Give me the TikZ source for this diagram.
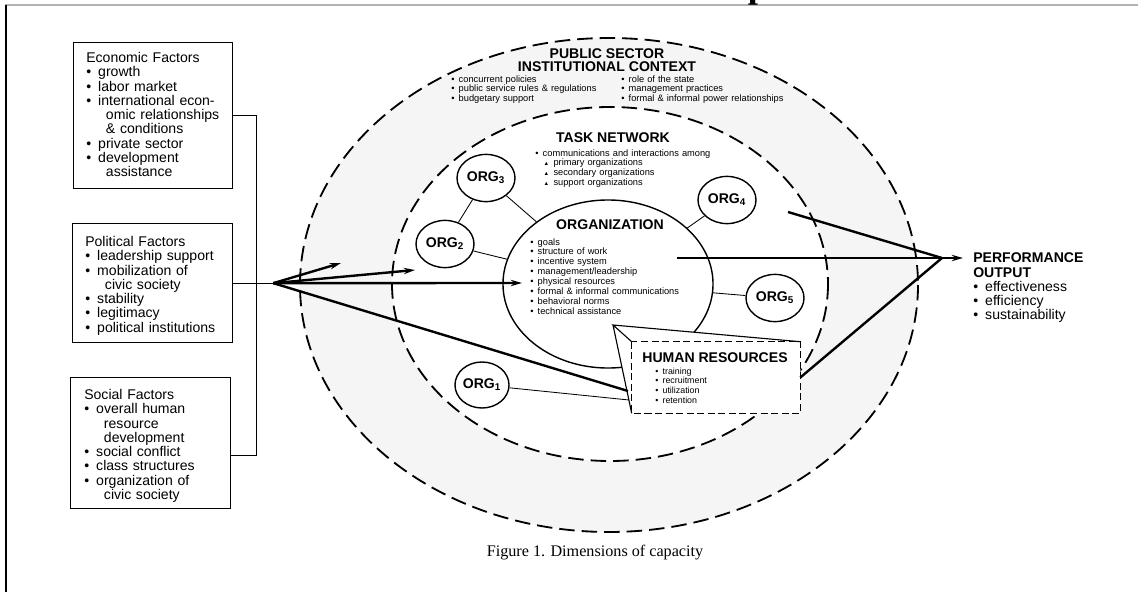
\documentclass[tikz,border=0pt]{standalone}
\usepackage{fontspec}
\setmainfont{Liberation Sans}
\newfontfamily\capfont{Liberation Serif}
\usetikzlibrary{shapes.geometric,arrows.meta,calc}

\newcommand{\bul}{\textbullet\hspace{5pt}}
\newcommand{\cont}{\hspace*{14pt}}
\newcommand{\sbul}{\textbullet\hspace{3pt}}
\newcommand{\tri}{\hspace*{6pt}{\fontsize{4}{4}\selectfont ▲}\hspace{3pt}}

\begin{document}
\begin{tikzpicture}[x=0.025cm,y=-0.025cm,
    factorbox/.style={draw,line width=0.9pt,anchor=north west,inner sep=0},
    factortext/.style={anchor=base west,inner sep=0,text width=4cm,align=left,
      font=\fontsize{10}{10.15}\selectfont},
    smalllist/.style={anchor=base west,inner sep=0,text width=5.5cm,align=left,
      font=\fontsize{6.6}{7.1}\selectfont},
    heading/.style={font=\bfseries\fontsize{10}{9.4}\selectfont,align=center,inner sep=0},
    ring/.style={line width=1.3pt,dash pattern=on 11pt off 5pt},
    orgcirc/.style={ellipse,draw,line width=1pt,fill=white,inner sep=0,
      minimum width=1.45cm,minimum height=1.18cm,font=\bfseries\fontsize{10}{10}\selectfont},
    link/.style={line width=0.6pt},
    flow/.style={line width=1.7pt},
    >={Stealth[length=8pt,width=4.5pt]}
  ]
  \useasboundingbox (0,0) rectangle (1138,592);

  % page frame and clipped title
  \draw[gray!60,line width=0.8pt] (5,5) -- (1138,5);
  \draw[line width=1.5pt] (6,5) -- (6,592);
  \node[anchor=base,inner sep=0,font=\capfont\bfseries\fontsize{26}{26}\selectfont] (ptitle) at (758,-2) {p};

  % public sector ring and task network
  \fill[gray!8,even odd rule] (609,285) ellipse [x radius=309,y radius=247]
    (610,284) ellipse [x radius=218,y radius=177];
  \draw[ring] (609,285) ellipse [x radius=309,y radius=247];
  \draw[ring] (610,284) ellipse [x radius=218,y radius=177];

  \node[heading] (pubtitle) at (607,60.5) {PUBLIC SECTOR\\INSTITUTIONAL CONTEXT};
  \node[smalllist] (publeft) at (451,82) {\sbul concurrent policies\\
    \sbul public service rules \& regulations\\ \sbul budgetary support};
  \node[smalllist] (pubright) at (621,82) {\sbul role of the state\\
    \sbul management practices\\ \sbul formal \& informal power relationships};

  \node[heading] (tasktitle) at (613,138) {TASK NETWORK};
  \node[smalllist] (tasklist) at (535,156) {\sbul communications and interactions among\\
    \tri primary organizations\\ \tri secondary organizations\\ \tri support organizations};

  % organization
  \node[ellipse,draw,line width=1pt,inner sep=0,minimum width=5.25cm,minimum height=4.2cm] (orgn) at (608,284) {};
  \node[heading] (orgtitle) at (610,225) {ORGANIZATION};
  \node[smalllist] (orglist) at (530,245) {\sbul goals\\ \sbul structure of work\\
    \sbul incentive system\\ \sbul management/leadership\\ \sbul physical resources\\
    \sbul formal \& informal communications\\ \sbul behavioral norms\\ \sbul technical assistance};

  % other organizations
  \node[orgcirc] (org3) at (486,178) {ORG\textsubscript{3}};
  \node[orgcirc] (org2) at (445,244) {ORG\textsubscript{2}};
  \node[orgcirc] (org4) at (727,200) {ORG\textsubscript{4}};
  \node[orgcirc] (org5) at (775,298) {ORG\textsubscript{5}};
  \node[orgcirc,minimum width=1.35cm,minimum height=1.15cm] (org1) at (482,385) {ORG\textsubscript{1}};
  \draw[link] (org3) -- (org2);
  \draw[link] (org3) -- (orgn);
  \draw[link] (org2) -- (orgn);
  \draw[link] (org4) -- (orgn);
  \draw[link] (org5) -- (orgn);

  % human resources box
  \coordinate (hrback) at (613,325);
  \node[inner sep=0,minimum width=4.2cm,minimum height=1.775cm] (hr) at (716,377.5) {};
  \fill[white] (hrback) -- (hr.north east) -- (hr.south east) -- (hr.south west) -- cycle;
  \draw[line width=0.9pt,dash pattern=on 5pt off 2.5pt] (hr.north west) rectangle (hr.south east);
  \draw[line width=0.8pt] (hr.north west) -- (hrback) -- (hr.north east) (hrback) -- (hr.south west);
  \node[heading] (hrtitle) at (715,358) {HUMAN RESOURCES};
  \node[smalllist,font=\fontsize{6.3}{7.1}\selectfont] (hrlist) at (655,374) {\sbul training\\
    \sbul recruitment\\ \sbul utilization\\ \sbul retention};
  \coordinate (hrin) at (628,391);
  \coordinate (hrlow) at (629,400);
  \draw[link] (org1) -- (hrlow);

  % factor boxes
  \node[factorbox,minimum width=3.975cm,minimum height=3.65cm] (econ) at (73,42) {};
  \node[factortext] (econtxt) at (86,62.5) {Economic Factors\\ \bul growth\\ \bul labor market\\
    \bul international econ-\\ \cont omic relationships\\ \cont \& conditions\\
    \bul private sector\\ \bul development\\ \cont assistance};
  \node[factorbox,minimum width=4cm,minimum height=2.975cm] (pol) at (72,223) {};
  \node[factortext] (poltxt) at (85,246.5) {Political Factors\\ \bul leadership support\\
    \bul mobilization of\\ \cont civic society\\ \bul stability\\ \bul legitimacy\\
    \bul political institutions};
  \node[factorbox,minimum width=4cm,minimum height=3.275cm] (soc) at (70,377) {};
  \node[factortext] (soctxt) at (84,399.5) {Social Factors\\ \bul overall human\\
    \cont resource\\ \cont development\\ \bul social conflict\\ \bul class structures\\
    \bul organization of\\ \cont civic society};

  \draw[link,line width=0.8pt] (econ.east) -- ++(23,0) |- ($(soc.east)+(0,12)$);

  % flows in
  \coordinate (lhub) at ($(pol.east)+(40,0)$);
  \coordinate (tipring) at (341,263);
  \coordinate (tiptask) at (415,270);
  \coordinate (tiporg) at (522,283);
  \draw[link,line width=0.8pt] (pol.east) -- (lhub);
  \draw[flow,->] (lhub) -- (tipring);
  \draw[flow,->] (lhub) -- (tiptask);
  \draw[flow,->] (lhub) -- (tiporg);
  \draw[flow] (lhub) -- (hrin);

  % flows out
  \node[anchor=west,inner sep=0,font=\bfseries\fontsize{10}{10}\selectfont] (perf) at (973,258) {PERFORMANCE};
  \node[factortext,text width=3.5cm] (perflist) at (973,277) {\textbf{OUTPUT}\\
    \bul effectiveness\\ \bul efficiency\\ \bul sustainability};
  \coordinate (rhub) at (942,258);
  \coordinate (orgout) at (677,258);
  \coordinate (taskout) at (788,212);
  \draw[flow,->] (orgout) -- ([xshift=-0.25cm]perf.west);
  \draw[flow] (taskout) -- (rhub);
  \draw[flow] (hr.east) -- (rhub);

  % caption
  \node[font=\capfont\fontsize{11.5}{12}\selectfont] (caption) at (595,553) {Figure 1. Dimensions of capacity};
\end{tikzpicture}
\end{document}
